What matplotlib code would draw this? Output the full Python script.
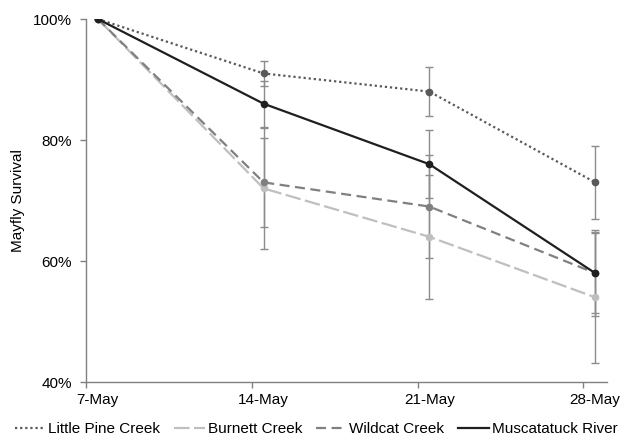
import matplotlib
matplotlib.use("Agg")
import matplotlib.pyplot as plt
from matplotlib.lines import Line2D
from matplotlib.ticker import FixedLocator, FuncFormatter

# sampling dates (days after 7-May) and labels
days = [0, 7, 14, 21]
date_labels = ["7-May", "14-May", "21-May", "28-May"]

series_names = ["Little Pine Creek", "Burnett Creek", "Wildcat Creek", "Muscatatuck River"]
little_pine = [100, 91, 88, 73]
burnett = [100, 72, 64, 54]
wildcat = [100, 73, 69, 58]
muscatatuck = [100, 86, 76, 58]

little_pine_err = [0, 2.1, 4.0, 6.0]
burnett_err = [0, 10.0, 10.2, 10.8]
wildcat_err = [0, 7.3, 8.5, 6.6]
muscatatuck_err = [0, 3.8, 5.6, 7.1]

plt.rcParams["font.family"] = ["Liberation Sans", "DejaVu Sans"]

fig = plt.figure(figsize=(6.32, 4.42), dpi=100)
ax = fig.add_axes([0.1361, 0.1357, 0.8243, 0.8213])

styles = [
    dict(color="#595959", ls=(0, (1, 1.3))),
    dict(color="#bfbfbf", ls=(0, (7, 2))),
    dict(color="#808080", ls=(0, (4.5, 2.5))),
    dict(color="#1f1f1f", ls="-"),
]
values = [little_pine, burnett, wildcat, muscatatuck]
errors = [little_pine_err, burnett_err, wildcat_err, muscatatuck_err]

for name, vals, errs, st in zip(series_names, values, errors, styles):
    ax.errorbar(days, vals, yerr=errs, fmt="none", ecolor="#8c8c8c",
                elinewidth=1, capsize=3, capthick=1, zorder=2)
    ax.plot(days, vals, color=st["color"], linestyle=st["ls"], lw=1.6,
            marker="o", ms=4.5, mfc=st["color"], mec=st["color"], label=name, zorder=3)

ax.set_xlim(-0.5, 21.5)
ax.set_ylim(40, 100)
ax.xaxis.set_major_locator(FixedLocator(days))
ax.set_xticklabels(date_labels)
ax.xaxis.set_minor_locator(FixedLocator([d - 0.5 for d in days]))
ax.tick_params(axis="x", which="major", length=0, pad=8)
ax.tick_params(axis="x", which="minor", length=4, width=1, color="#808080")
ax.set_yticks([40, 60, 80, 100])
ax.yaxis.set_major_formatter(FuncFormatter(lambda v, p: f"{v:.0f}%"))
ax.tick_params(axis="y", length=4, width=1, color="#808080", pad=6)
ax.tick_params(labelsize=11, labelcolor="#000000")

for side in ["top", "right"]:
    ax.spines[side].set_visible(False)
for side in ["left", "bottom"]:
    ax.spines[side].set_color("#808080")
    ax.spines[side].set_linewidth(1)

ax.set_ylabel("Mayfly Survival", fontsize=11, labelpad=6)

# legend handles without markers
leg_handles = [Line2D([], [], color=st["color"], linestyle=st["ls"], lw=1.6) for st in styles]
fig.legend(leg_handles, series_names, loc="lower center", bbox_to_anchor=(0.5, -0.018),
           ncol=4, frameon=False, fontsize=11, handlelength=2.0, handletextpad=0.2,
           columnspacing=0.9)

fig.savefig("out.png", dpi=100)
